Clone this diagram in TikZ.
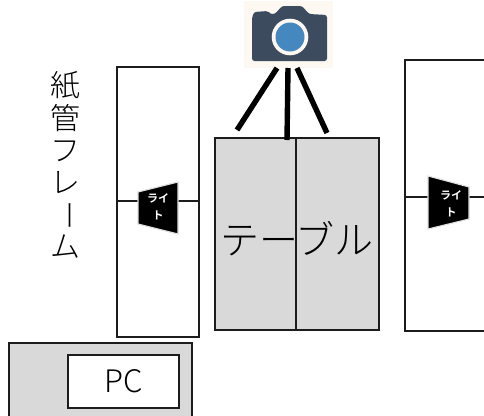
\documentclass[tikz,border=0pt]{standalone}
\usepackage{fontspec}
\setmainfont{Noto Sans CJK JP}[UprightFont=* Light,BoldFont=* Bold]
\definecolor{gr}{HTML}{D9D9D9}
\definecolor{ln}{HTML}{1C1C1C}
\definecolor{cambg}{HTML}{FDF8F2}
\definecolor{cambody}{HTML}{3C4C5E}
\definecolor{camblue}{HTML}{4488BF}
\tikzset{
  box/.style={draw=ln,line width=1.5pt},
  greybox/.style={box,fill=gr},
  leg/.style={draw=black,line width=5.4pt},
  wire/.style={draw=ln,line width=1.2pt},
  lamp/.style={fill=black,draw=black!12,line width=1.1pt},
  lamptext/.style={text=white,font=\bfseries\fontsize{11}{16.5}\selectfont,align=center,inner sep=0pt},
  vtext/.style={font=\fontsize{30}{32.5}\selectfont,align=center,inner sep=0pt,text=black},
}
\begin{document}
\begin{tikzpicture}[x=1pt,y=-1pt]
\useasboundingbox (0,0) rectangle (484,415);
% frames
\draw[box,fill=white] (117,67) rectangle (199,337);
\draw[box,fill=white] (405,60) rectangle (494,331);
% table
\draw[greybox] (215,138) rectangle (379,330);
\coordinate (tabletop) at (296,138);
\coordinate (tablebot) at (296,330);
\draw[box] (tabletop) -- (tablebot);
\node[inner sep=0pt,font=\fontsize{39}{44}\selectfont,text=black] (tabletext) at (297,239) {テーブル};
% PC
\draw[greybox] (9,343) rectangle (192,425);
\draw[box,fill=white] (68,355) rectangle (179,408);
\node[inner sep=0pt,font=\fontsize{31}{36}\selectfont,text=black] (pc) at (124,381) {PC};
% camera
\fill[cambg] (244,1) rectangle (333,68);
\fill[cambody,rounded corners=2.5pt] (252,18) -- (254,12) -- (268,11) -- (270,14) -- (275,14) -- (282,6) -- (302,6) -- (309,14) -- (327,15) -- (327,61) -- (252,61) -- cycle;
\fill[cambg] (290,37) circle (18.3);
\fill[camblue] (290,37) circle (14.5);
\coordinate (cama) at (277,68);
\coordinate (camb) at (288,68);
\coordinate (camc) at (297,68);
\coordinate (taba) at (237,130);
\coordinate (tabb) at (287,140);
\coordinate (tabc) at (327,133);
\draw[leg] (cama) -- (taba);
\draw[leg] (camb) -- (tabb);
\draw[leg] (camc) -- (tabc);
% left light
\coordinate (lf) at (117,201);
\coordinate (lr) at (199,201);
\coordinate (ll) at (138,201);
\coordinate (lm) at (178,201);
\draw[wire] (lf) -- (ll);
\draw[wire] (lm) -- (lr);
\draw[lamp] (138,192) -- (178,182) -- (178,234) -- (138,224) -- cycle;
\node[lamptext] (ltext) at (158,207) {ライ\\ト};
% right light
\coordinate (rf) at (405,197);
\coordinate (rr) at (484,197);
\coordinate (rl) at (428,197);
\coordinate (rm) at (469,197);
\draw[wire] (rf) -- (rl);
\draw[wire] (rm) -- (rr);
\draw[lamp] (428,176) -- (469,187) -- (469,219) -- (428,229) -- cycle;
\node[lamptext] (rtext) at (451,204) {ライ\\ト};
% vertical label
\node[vtext] (v1) at (65,85) {紙};
\node[vtext] (v2) at (65,118) {管};
\node[vtext] (v3) at (65,151) {フ};
\node[vtext] (v4) at (65,183) {レ};
\node[vtext,rotate=-90] (v5) at (65,215) {ー};
\node[vtext] (v6) at (65,247) {ム};
\end{tikzpicture}
\end{document}
